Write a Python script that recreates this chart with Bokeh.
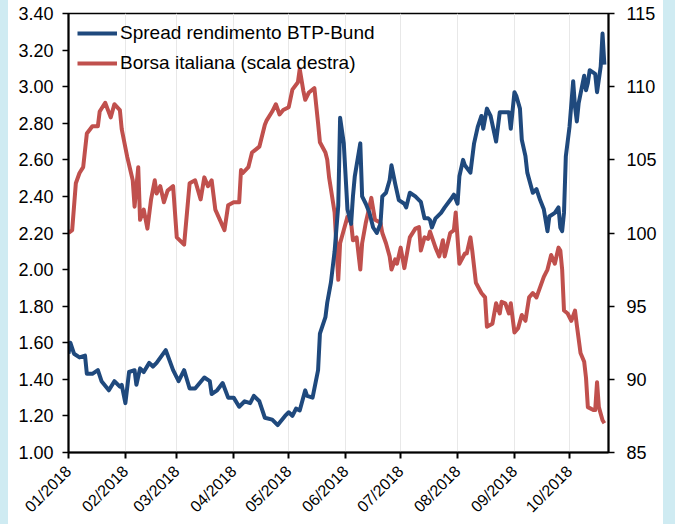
import pandas as pd
from bokeh.plotting import figure
from bokeh.models import (Range1d, LinearAxis, FixedTicker, DatetimeTickFormatter,
                          Legend, LegendItem, PrintfTickFormatter, ColumnDataSource)
from bokeh.embed import file_html
from bokeh.resources import INLINE

YEAR = "2018"

spread_dates = [
    "01-01", "01-02", "01-04", "01-07", "01-10", "01-11", "01-14", "01-17", "01-19", "01-23", "01-26", "01-29", "01-30",
    "02-01", "02-03", "02-06", "02-07", "02-09", "02-11", "02-14", "02-16", "02-18", "02-23", "02-27",
    "03-02", "03-05", "03-08", "03-11", "03-16", "03-19", "03-20", "03-23", "03-26", "03-29",
    "04-01", "04-04", "04-07", "04-10", "04-12", "04-15", "04-18", "04-22", "04-25", "04-29",
    "05-01", "05-03", "05-05", "05-07", "05-10", "05-11", "05-14", "05-17", "05-18", "05-21", "05-22", "05-24",
    "05-26", "05-28", "05-29", "05-31",
    "06-02", "06-04", "06-05", "06-06", "06-09", "06-10", "06-12", "06-14", "06-16", "06-18", "06-20", "06-21",
    "06-23", "06-25", "06-26", "06-28", "06-30",
    "07-03", "07-04", "07-06", "07-09", "07-11", "07-12", "07-14", "07-16", "07-17", "07-18", "07-20", "07-23",
    "07-25", "07-28", "07-30",
    "08-01", "08-02", "08-04", "08-05", "08-08", "08-10", "08-12", "08-14", "08-15", "08-17", "08-19", "08-22",
    "08-24", "08-27", "08-29", "08-30",
    "09-01", "09-02", "09-04", "09-05", "09-07", "09-08", "09-11", "09-13", "09-15", "09-17", "09-19", "09-20",
    "09-23", "09-25", "09-26", "09-27", "09-28", "09-29",
    "10-01", "10-03", "10-04", "10-05", "10-06", "10-09", "10-10", "10-11", "10-12", "10-15", "10-16", "10-18",
    "10-19", "10-20",
]
spread_values = [
    1.54, 1.60, 1.54, 1.52, 1.53, 1.43, 1.43, 1.45, 1.39, 1.34, 1.39, 1.36, 1.37,
    1.27, 1.44, 1.45, 1.37, 1.46, 1.44, 1.49, 1.47, 1.49, 1.56, 1.45,
    1.39, 1.45, 1.35, 1.35, 1.41, 1.39, 1.32, 1.34, 1.38, 1.30,
    1.30, 1.25, 1.28, 1.27, 1.31, 1.28, 1.19, 1.18, 1.15, 1.20,
    1.22, 1.20, 1.24, 1.23, 1.34, 1.31, 1.30, 1.45, 1.65, 1.74, 1.82, 1.93,
    2.10, 2.35, 2.83, 2.69,
    2.33, 2.25, 2.40, 2.51, 2.69, 2.40, 2.36, 2.31, 2.23, 2.20, 2.25, 2.40,
    2.42, 2.49, 2.57, 2.47, 2.38,
    2.36, 2.34, 2.42, 2.40, 2.38, 2.37, 2.28, 2.28, 2.27, 2.23, 2.28, 2.31,
    2.34, 2.38, 2.41,
    2.36, 2.51, 2.60, 2.57, 2.53, 2.69, 2.78, 2.84, 2.77, 2.88, 2.84, 2.70,
    2.86, 2.86, 2.86, 2.77,
    2.97, 2.95, 2.88, 2.71, 2.62, 2.53, 2.42, 2.44, 2.38, 2.33, 2.21, 2.29,
    2.31, 2.34, 2.23, 2.21, 2.31, 2.62,
    2.78, 3.03, 2.89, 2.81, 2.91, 3.06, 2.98, 3.02, 3.09, 3.07, 2.97, 3.11,
    3.29, 3.12,
]

borsa_dates = [
    "01-01", "01-03", "01-05", "01-07", "01-09", "01-11", "01-14", "01-17", "01-18", "01-21", "01-24", "01-26", "01-29", "01-30",
    "02-02", "02-05", "02-06", "02-08", "02-09", "02-11", "02-13", "02-15", "02-17", "02-18", "02-20", "02-22", "02-24", "02-27",
    "03-01", "03-05", "03-08", "03-11", "03-14", "03-16", "03-18", "03-20", "03-22", "03-27", "03-29",
    "04-01", "04-04", "04-05", "04-06", "04-09", "04-11", "04-13", "04-15", "04-18", "04-19", "04-22", "04-24", "04-26", "04-28",
    "05-01", "05-03", "05-06", "05-07", "05-09", "05-10", "05-12", "05-15", "05-17", "05-18", "05-21", "05-22", "05-23",
    "05-26", "05-28", "05-29", "05-31",
    "06-02", "06-04", "06-05", "06-07", "06-09", "06-10", "06-12", "06-14", "06-15", "06-17", "06-20", "06-21", "06-23",
    "06-25", "06-26", "06-28", "06-29",
    "07-01", "07-03", "07-05", "07-06", "07-09", "07-11", "07-12", "07-14", "07-16", "07-17", "07-20", "07-22", "07-24",
    "07-25", "07-28", "07-30", "07-31",
    "08-02", "08-05", "08-06", "08-08", "08-09", "08-11", "08-14", "08-16", "08-17", "08-20", "08-22", "08-24", "08-25",
    "08-27", "08-29", "08-30",
    "09-01", "09-03", "09-05", "09-07", "09-09", "09-11", "09-13", "09-15", "09-17", "09-19", "09-21", "09-23", "09-25",
    "09-26", "09-27", "09-28", "09-30",
    "10-02", "10-04", "10-05", "10-07", "10-09", "10-10", "10-11", "10-14", "10-15", "10-16", "10-17", "10-19", "10-20",
]
borsa_values = [
    100.0, 100.2, 103.4, 104.1, 104.5, 106.8, 107.3, 107.3, 108.3, 108.9, 107.9, 108.8, 108.4, 107.1,
    105.2, 103.6, 101.8, 104.5, 100.9, 101.6, 100.3, 102.3, 103.6, 102.7, 103.2, 102.1, 102.9, 103.2,
    99.7, 99.2, 103.4, 103.6, 102.3, 103.8, 103.2, 103.6, 101.6, 100.2, 101.9,
    102.1, 102.1, 104.3, 104.1, 104.5, 105.5, 105.7, 105.9, 107.4, 107.7, 108.3, 108.8, 108.1, 108.4,
    108.6, 109.8, 110.3, 111.2, 109.7, 109.1, 109.6, 109.9, 107.5, 106.2, 105.5, 105.0, 103.8,
    101.4, 96.8, 99.3, 100.2,
    101.1, 100.7, 99.5, 99.7, 97.5, 99.3, 100.7, 101.8, 102.4, 100.9, 100.7, 100.0, 99.3,
    98.4, 97.5, 98.2, 97.9,
    99.0, 97.6, 99.0, 99.7, 100.3, 100.4, 98.8, 99.7, 99.6, 100.1, 99.0, 98.4, 99.5,
    98.4, 100.0, 100.2, 101.4,
    97.9, 98.6, 98.6, 99.7, 98.8, 96.6, 95.9, 95.6, 93.6, 93.8, 95.2, 94.5, 95.3,
    95.2, 94.5, 95.2,
    93.2, 93.5, 94.4, 94.0, 95.6, 95.9, 95.6, 96.3, 97.0, 97.5, 98.5, 97.9, 99.0,
    98.8, 97.5, 94.7, 94.5,
    94.0, 94.7, 93.7, 91.8, 91.2, 90.1, 88.1, 87.9, 87.9, 89.8, 88.1, 87.2, 87.0,
]

series_names = ["Spread rendimento BTP-Bund", "Borsa italiana (scala destra)"]
month_ticks = ["01-01", "02-01", "03-01", "04-01", "05-01", "06-01", "07-01", "08-01", "09-01", "10-01"]
left_ticks = [1.0, 1.2, 1.4, 1.6, 1.8, 2.0, 2.2, 2.4, 2.6, 2.8, 3.0, 3.2, 3.4]
right_ticks = [85, 90, 95, 100, 105, 110, 115]
x_start, x_end = "2018-01-01", "2018-10-22 06:00"

FONT = "Liberation Sans"
BLUE = "#1F497D"
RED = "#C0504D"


def to_dt(lst):
    return pd.to_datetime([f"{YEAR}-{d}" for d in lst])


spread_src = ColumnDataSource(dict(x=to_dt(spread_dates), y=spread_values))
borsa_src = ColumnDataSource(dict(x=to_dt(borsa_dates), y=borsa_values))
tick_ms = [int(t.value // 10**6) for t in to_dt(month_ticks)]

p = figure(width=655, height=524, x_axis_type="datetime",
           x_range=Range1d(pd.Timestamp(x_start), pd.Timestamp(x_end)),
           y_range=Range1d(1.0, 3.4),
           output_backend="svg", toolbar_location=None,
           min_border_left=60, min_border_right=55, min_border_top=13, min_border_bottom=72,
           background_fill_color="white", border_fill_color="white")
p.extra_y_ranges = {"right": Range1d(85, 115)}

p.outline_line_color = "black"
p.outline_line_width = 1.5
p.outline_line_alpha = 1.0

r_borsa = p.line("x", "y", source=borsa_src, y_range_name="right",
                 line_color=RED, line_width=4, line_join="round")
r_spread = p.line("x", "y", source=spread_src,
                  line_color=BLUE, line_width=4, line_join="round")

# x axis
xa = p.xaxis[0]
xa.ticker = FixedTicker(ticks=tick_ms)
fmt = "%m/%Y"
xa.formatter = DatetimeTickFormatter(milliseconds=fmt, seconds=fmt, minsec=fmt, minutes=fmt,
                                     hourmin=fmt, hours=fmt, days=fmt, months=fmt, years=fmt)
xa.major_label_orientation = 0.785398
xa.major_label_text_font = FONT
xa.major_label_text_font_size = "16px"
xa.major_label_text_color = "black"
xa.major_label_standoff = 10
xa.axis_line_color = "black"
xa.axis_line_width = 2
xa.major_tick_line_color = "black"
xa.major_tick_line_width = 2
xa.major_tick_in = 0
xa.major_tick_out = 6
xa.minor_tick_line_color = None

# left y axis
ya = p.yaxis[0]
ya.ticker = FixedTicker(ticks=left_ticks)
ya.formatter = PrintfTickFormatter(format="%.2f")
ya.major_label_text_font = FONT
ya.major_label_text_font_size = "18px"
ya.major_label_text_color = "black"
ya.major_label_standoff = 9
ya.axis_line_color = "black"
ya.axis_line_width = 2
ya.major_tick_line_color = "black"
ya.major_tick_line_width = 1.5
ya.major_tick_in = 0
ya.major_tick_out = 6
ya.minor_tick_line_color = None

# right y axis
ra = LinearAxis(y_range_name="right", ticker=FixedTicker(ticks=right_ticks))
ra.major_label_text_font = FONT
ra.major_label_text_font_size = "18px"
ra.major_label_text_color = "black"
ra.major_label_standoff = 12
ra.axis_line_color = "black"
ra.axis_line_width = 2
ra.major_tick_line_color = "black"
ra.major_tick_line_width = 1.5
ra.major_tick_in = 0
ra.major_tick_out = 6
ra.minor_tick_line_color = None
p.add_layout(ra, "right")

# grid
p.xgrid.ticker = FixedTicker(ticks=tick_ms)
p.xgrid.grid_line_color = "#e8e8e8"
p.xgrid.grid_line_width = 1
p.ygrid.visible = False

legend = Legend(items=[LegendItem(label=series_names[0], renderers=[r_spread]),
                       LegendItem(label=series_names[1], renderers=[r_borsa])],
                location="top_left")
legend.label_text_font = FONT
legend.label_text_font_size = "19px"
legend.label_text_color = "black"
legend.border_line_alpha = 0
legend.background_fill_alpha = 0
legend.glyph_width = 40
legend.glyph_height = 20
legend.spacing = 8
legend.padding = 9
legend.margin = 0
legend.label_standoff = 3
p.add_layout(legend)

html = file_html(p, INLINE)
page_style = ("<style>html { background: linear-gradient(to right, #cfebf2 0px, #cfebf2 8px, "
              "#ffffff 8px, #ffffff 663px, #cfebf2 663px) !important; } "
              "body { padding-left: 8px !important; background: transparent !important; "
              "overflow: hidden; }</style>")
html = html.replace("</head>", page_style + "</head>", 1)
open("out.html", "w").write(html)
